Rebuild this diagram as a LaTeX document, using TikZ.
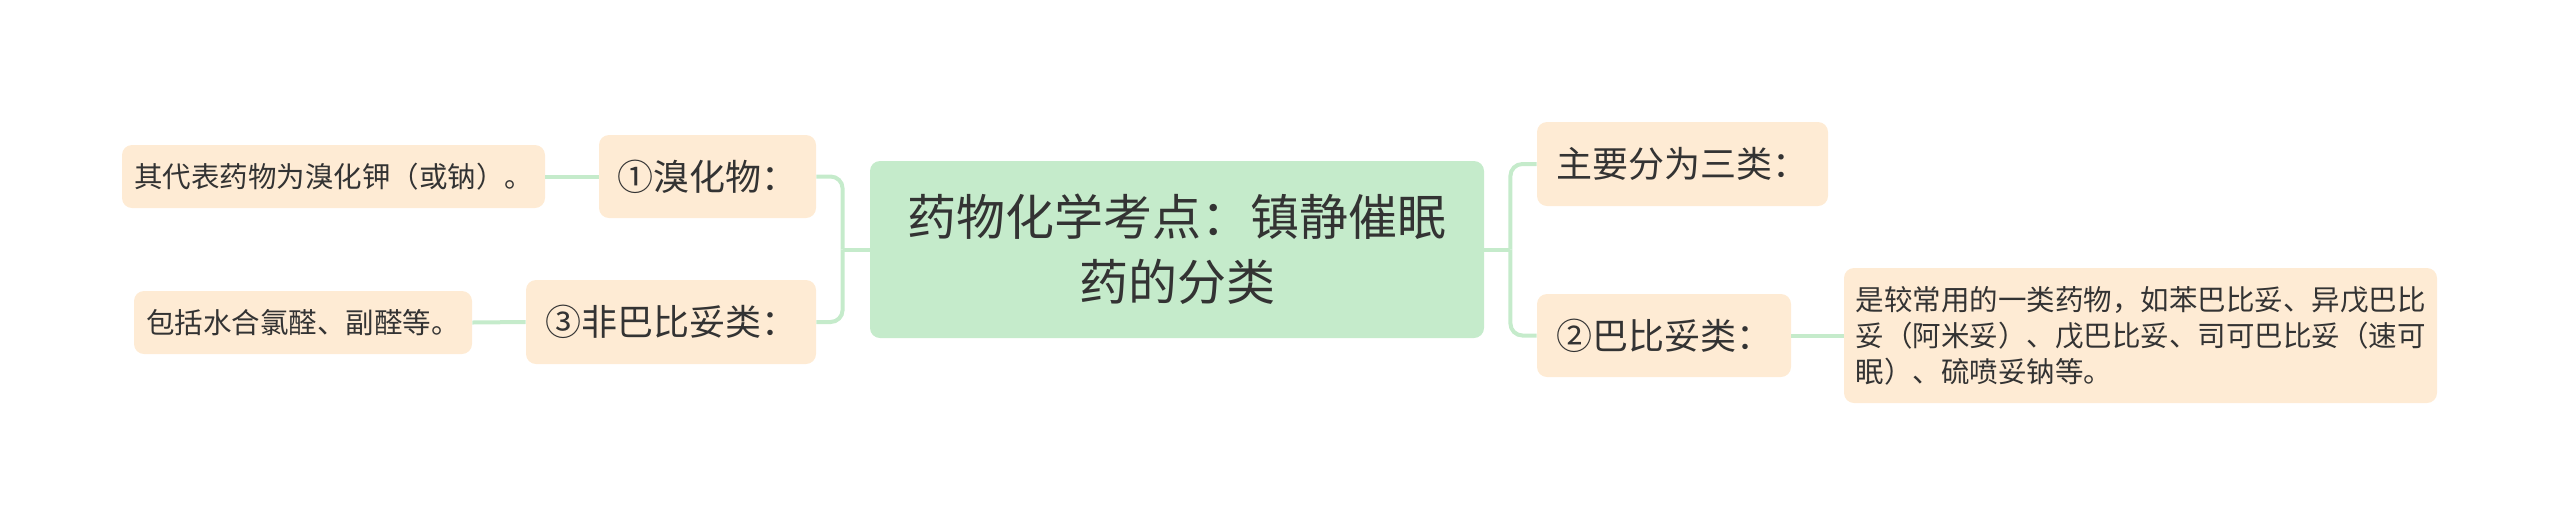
\documentclass[tikz,border=0pt]{standalone}
\usepackage{fontspec}
\setmainfont{Noto Sans CJK SC}
\usetikzlibrary{calc}
\definecolor{peach}{HTML}{FEEBD4}
\definecolor{mint}{HTML}{C5EBCB}
\definecolor{ink}{HTML}{333333}
\tikzset{
  box/.style={fill=peach, rounded corners=5pt, inner sep=0pt, text=ink, anchor=center},
  lvlone/.style={box, font=\fontsize{18pt}{22pt}\selectfont},
  leaf/.style={box, font=\fontsize{14.25pt}{18pt}\selectfont},
  root/.style={box, fill=mint, font=\fontsize{24.5pt}{32.5pt}\selectfont, align=center},
  conn/.style={draw=mint, line width=2pt, rounded corners=6pt}
}
\begin{document}
\begin{tikzpicture}[x=0.5pt,y=-0.5pt]
\useasboundingbox (0,0) rectangle (2560,526);
\node[root, minimum width=307pt, minimum height=88.5pt] (center) at (1177,249.5) {药物化学考点：镇静催眠\\药的分类};
\node[lvlone, minimum width=145.5pt, minimum height=42pt] (zhuyao) at (1682.5,164) {主要分为三类：};
\node[lvlone, minimum width=127pt, minimum height=41.5pt] (babi) at (1664,335.5) {②巴比妥类：};
\node[leaf, align=left, minimum width=296.5pt, minimum height=67.5pt] (leafR) at (2140.5,335.5) {是较常用的一类药物，如苯巴比妥、异戊巴比\\妥（阿米妥）、戊巴比妥、司可巴比妥（速可\\眠）、硫喷妥钠等。};
\node[lvlone, minimum width=108.5pt, minimum height=41.5pt] (xiu) at (707.5,176.5) {①溴化物：};
\node[lvlone, minimum width=145pt, minimum height=42pt] (fei) at (671,322) {③非巴比妥类：};
\node[leaf, minimum width=211.5pt, minimum height=31.5pt] (leafXiu) at (333.5,176.5) {其代表药物为溴化钾（或钠）。};
\node[leaf, minimum width=169pt, minimum height=31.5pt] (leafFei) at (303,322.5) {包括水合氯醛、副醛等。};
\coordinate (hubL) at ($(center.west)+(-13.5pt,0)$);
\coordinate (hubR) at ($(center.east)+(13pt,0)$);
\draw[conn] (center.west) -- (hubL);
\draw[conn] (hubL) |- (xiu.east);
\draw[conn] (hubL) |- (fei.east);
\draw[conn] (center.east) -- (hubR);
\draw[conn] (hubR) |- (zhuyao.west);
\draw[conn] (hubR) |- (babi.west);
\draw[conn] (leafXiu.east) -- (xiu.west);
\draw[conn] (leafFei.east) -- (fei.west);
\draw[conn] (babi.east) -- (leafR.west);
\end{tikzpicture}
\end{document}
